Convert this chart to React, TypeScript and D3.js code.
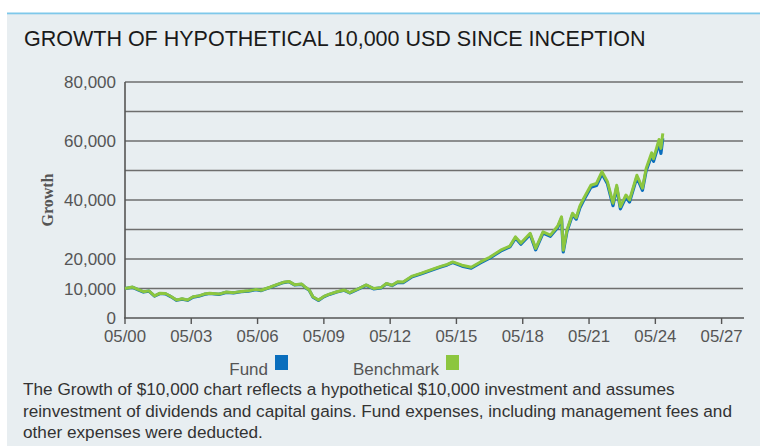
import * as d3 from "d3";

// values (USD, growth of 10,000)
const dates = [
  "2000-05", "2000-09", "2000-12", "2001-03", "2001-06", "2001-09", "2001-12",
  "2002-03", "2002-06", "2002-09", "2002-12", "2003-03", "2003-06", "2003-09",
  "2003-12", "2004-03", "2004-08", "2004-12", "2005-04", "2005-08", "2005-12",
  "2006-04", "2006-07", "2006-12", "2007-03", "2007-07", "2007-10", "2008-01",
  "2008-05", "2008-07", "2008-09", "2008-11", "2009-02", "2009-05", "2009-08",
  "2009-12", "2010-04", "2010-07", "2010-12", "2011-04", "2011-08", "2011-12",
  "2012-03", "2012-06", "2012-09", "2012-12", "2013-05", "2013-10", "2014-03",
  "2014-08", "2014-12", "2015-03", "2015-08", "2016-01", "2016-06", "2016-11",
  "2017-05", "2017-10", "2018-01", "2018-04", "2018-09", "2018-12", "2019-04",
  "2019-08", "2019-12", "2020-02", "2020-03", "2020-05", "2020-08", "2020-10",
  "2020-12", "2021-02", "2021-06", "2021-09", "2021-12", "2022-03", "2022-06",
  "2022-08", "2022-10", "2023-01", "2023-03", "2023-07", "2023-10", "2023-12",
  "2024-03", "2024-04", "2024-07", "2024-08", "2024-09",
];

const benchmark = [
  10000, 10500, 9700, 8900, 9200, 7500, 8400,
  8300, 7300, 6100, 6500, 6100, 7200, 7500,
  8100, 8400, 8100, 8800, 8600, 9000, 9200,
  9700, 9400, 10500, 11200, 12100, 12400, 11300,
  11500, 10400, 9500, 7200, 6100, 7300, 8100,
  8900, 9500, 8600, 10000, 11200, 10000, 10300,
  11700, 11100, 12300, 12200, 14200, 15200, 16300,
  17400, 18200, 19000, 17900, 17200, 19000, 20600,
  23000, 24400, 27500, 25400, 28700, 23600, 29200,
  28100, 31200, 34300, 23000, 29800, 35500, 34000,
  38000, 40500, 45000, 45600, 49600, 46200, 38900,
  45000, 37700, 41700, 40000, 48400, 44000, 50700,
  56000, 54000, 60500, 57500, 62600,
];

const fund = [
  10000, 10400, 9600, 8800, 9100, 7400, 8300,
  8200, 7200, 6000, 6400, 6000, 7100, 7400,
  8000, 8300, 8000, 8700, 8500, 8900, 9100,
  9600, 9300, 10400, 11100, 12000, 12300, 11200,
  11400, 10300, 9400, 7100, 6000, 7200, 8000,
  8800, 9400, 8500, 9900, 11100, 9900, 10200,
  11600, 11000, 12100, 12000, 14000, 15000, 16100,
  17200, 18000, 18800, 17600, 16900, 18700, 20300,
  22700, 24100, 27100, 25000, 28300, 23100, 28800,
  27700, 30700, 33800, 22400, 29300, 35000, 33500,
  37400, 39900, 44300, 44900, 48900, 45500, 38100,
  44300, 37000, 41000, 39300, 47700, 43300, 49900,
  55100, 53100, 59300, 55800, 60900,
];

const yTickValues = [0, 10000, 20000, 40000, 60000, 80000];
const gridValues = [10000, 20000, 30000, 40000, 50000, 60000, 70000, 80000];
const xTickYears = [2000, 2003, 2006, 2009, 2012, 2015, 2018, 2021, 2024, 2027];

const title = "GROWTH OF HYPOTHETICAL 10,000 USD SINCE INCEPTION";
const footer = [
  "The Growth of $10,000 chart reflects a hypothetical $10,000 investment and assumes",
  "reinvestment of dividends and capital gains. Fund expenses, including management fees and",
  "other expenses were deducted.",
];

const W = 760;
const H = 446;
const FONT = "'Liberation Sans', Arial, sans-serif";
const TEXT_GREY = "#555";

export default function App() {
  const parse = d3.timeParse("%Y-%m");
  const x = d3
    .scaleTime()
    .domain([new Date(2000, 4, 1), new Date(2027, 4, 1)])
    .range([125, 721.6]);
  const y = d3.scaleLinear().domain([0, 80000]).range([318, 82]);

  const points = dates.map((d, i) => ({ date: parse(d) as Date, bench: benchmark[i], fund: fund[i] }));

  const fundLine = d3
    .line<typeof points[0]>()
    .x((d) => x(d.date))
    .y((d) => y(d.fund));
  const benchLine = d3
    .line<typeof points[0]>()
    .x((d) => x(d.date))
    .y((d) => y(d.bench));

  return (
    <svg width={W} height={H} style={{ position: "absolute", left: 0, top: 0 }} fontFamily={FONT}>
      <rect x={0} y={0} width={W} height={H} fill="#fff" />
      <rect x={7} y={13} width={W - 7} height={H - 13} fill="#e8eef1" />
      <rect x={7} y={12.5} width={W - 7} height={1.8} fill="#7ec8ea" />

      <text x={24} y={46} fontSize={21.5} fill="#1a1a1a">
        {title}
      </text>

      {/* grid */}
      {gridValues.map((v) => (
        <line key={v} x1={125} x2={743} y1={y(v)} y2={y(v)} stroke="#6e6e6e" strokeWidth={1.4} />
      ))}

      {/* axes */}
      <line x1={125} x2={125} y1={y(80000)} y2={y(0)} stroke="#555" strokeWidth={1.6} />
      <line x1={124} x2={744} y1={y(0)} y2={y(0)} stroke="#555" strokeWidth={1.6} />

      {yTickValues.map((v) => (
        <text key={v} x={116} y={y(v) + 6} fontSize={17} fill={TEXT_GREY} textAnchor="end">
          {d3.format(",")(v)}
        </text>
      ))}

      {xTickYears.map((yr) => {
        const d = new Date(yr, 4, 1);
        return (
          <g key={yr} transform={`translate(${x(d)},0)`}>
            <line y1={y(0)} y2={y(0) + 6} stroke="#555" strokeWidth={1.4} />
            <text y={342} fontSize={16.8} fill={TEXT_GREY} textAnchor="middle">
              {d3.timeFormat("%m/%y")(d)}
            </text>
          </g>
        );
      })}

      <text
        transform="translate(53,200) rotate(-90)"
        fontFamily="'Liberation Serif', 'DejaVu Serif', serif"
        fontWeight="bold"
        fontSize={16}
        fill={TEXT_GREY}
        textAnchor="middle"
      >
        Growth
      </text>

      {/* series */}
      <path d={fundLine(points) ?? ""} fill="none" stroke="#0a6ebd" strokeWidth={3.2} strokeLinejoin="round" />
      <path d={benchLine(points) ?? ""} fill="none" stroke="#8cc63f" strokeWidth={3} strokeLinejoin="round" />

      {/* legend */}
      <text x={268} y={375} fontSize={17} fill={TEXT_GREY} textAnchor="end">
        Fund
      </text>
      <rect x={275} y={355} width={13} height={15} fill="#0a6ebd" />
      <text x={439} y={375} fontSize={17} fill={TEXT_GREY} textAnchor="end">
        Benchmark
      </text>
      <rect x={446} y={355} width={13} height={15} fill="#8cc63f" />

      {footer.map((line, i) => (
        <text key={i} x={23} y={395 + i * 21.5} fontSize={17.2} fill="#333">
          {line}
        </text>
      ))}
    </svg>
  );
}
